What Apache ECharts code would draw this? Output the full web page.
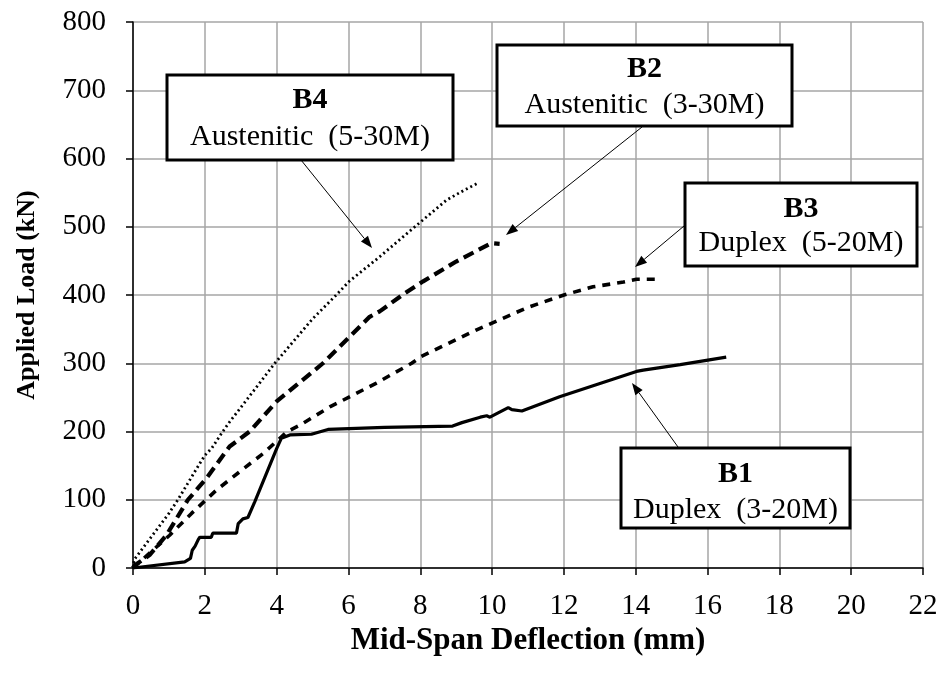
<!DOCTYPE html>
<html>
<head>
<meta charset="utf-8">
<script src="https://cdn.jsdelivr.net/npm/echarts@6/dist/echarts.min.js"></script>
<style>
html,body{margin:0;padding:0;background:#fff;}
#chart{width:943px;height:680px;}
</style>
</head>
<body>
<div id="chart"></div>
<script>
// ---- Data ----
var b1Defl = [0, 1.44, 1.6, 1.65, 1.73, 1.82, 1.86, 2.18, 2.22, 2.88, 2.93, 3.06, 3.2, 3.39, 4.0, 4.13, 4.37, 4.97, 5.43, 7.0, 8.9, 9.16, 9.67, 9.85, 9.94, 10.45, 10.55, 10.83, 11.88, 14.02, 14.21, 15.24, 16.52];
var b1Load = [0, 9, 14, 26, 32, 42, 45, 45, 51, 51, 65, 72, 74, 97, 175, 190, 195, 196, 203, 206, 208, 213, 221, 223, 221, 235, 232, 230, 251, 288, 290, 298, 309];

var b2Defl = [0, 0.05, 0.46, 0.93, 1.53, 2.04, 2.69, 3.25, 4.0, 5.29, 6.59, 6.87, 7.5, 8.08, 9.0, 9.98, 10.21];
var b2Load = [0, 4, 19, 48, 100, 131, 178, 200, 244, 300, 368, 376, 400, 420, 449, 476, 475];

var b3Defl = [0, 0.05, 1.02, 1.63, 2.32, 2.97, 3.63, 4.3, 4.64, 5.48, 6.78, 7.76, 8.03, 9.57, 11.0, 12.0, 12.81, 13.66, 14.02, 14.53];
var b3Load = [0, 2, 48, 80, 114, 141, 168, 200, 209, 236, 271, 300, 310, 349, 382, 400, 412, 419, 423, 423];

var b4Defl = [0, 0.03, 1.0, 1.25, 1.8, 2.0, 2.2, 2.5, 2.69, 3.16, 3.95, 5.0, 5.66, 6.02, 6.87, 7.85, 8.73, 9.2, 9.61];
var b4Load = [0, 12, 80, 100, 148, 165, 176, 200, 214, 246, 300, 365, 400, 420, 456, 500, 539, 553, 564];

var xTicks = {min: 0, max: 22, step: 2};
var yTicks = {min: 0, max: 800, step: 100};

var notes = [
  {id: 'B1', title: 'B1', sub: 'Duplex  (3-20M)'},
  {id: 'B2', title: 'B2', sub: 'Austenitic  (3-30M)'},
  {id: 'B3', title: 'B3', sub: 'Duplex  (5-20M)'},
  {id: 'B4', title: 'B4', sub: 'Austenitic  (5-30M)'}
];

function pairs(xs, ys) { return xs.map(function (x, i) { return [x, ys[i]]; }); }

var FONT = '"Liberation Serif", "Times New Roman", serif';

var chart = echarts.init(document.getElementById('chart'), null, {renderer: 'canvas'});

// annotation layout (pixel positions of boxes and arrow ends)
var layout = {
  B4: {box: [167, 75, 286, 85], t1: 100, t2: 137, arrow: [301, 160, 372, 248]},
  B2: {box: [497, 45, 295, 81], t1: 69, t2: 105, arrow: [642, 127, 506, 235]},
  B3: {box: [685, 183, 232, 83], t1: 209, t2: 243, arrow: [684, 226, 635, 267]},
  B1: {box: [621, 448, 229, 80], t1: 474, t2: 510, arrow: [678, 447, 632, 383]}
};

function arrowEls(a) {
  var x1 = a[0], y1 = a[1], x2 = a[2], y2 = a[3];
  var dx = x2 - x1, dy = y2 - y1, L = Math.sqrt(dx * dx + dy * dy);
  var ux = dx / L, uy = dy / L, hl = 12, hw = 4.5;
  var bx = x2 - ux * hl, by = y2 - uy * hl;
  return [
    {type: 'line', z: 100, shape: {x1: x1, y1: y1, x2: bx, y2: by}, style: {stroke: '#000', lineWidth: 1}},
    {type: 'polygon', z: 100, shape: {points: [[x2, y2], [bx - uy * hw, by + ux * hw], [bx + uy * hw, by - ux * hw]]}, style: {fill: '#000'}}
  ];
}

var graphics = [];
notes.forEach(function (n) {
  var l = layout[n.id];
  var b = l.box;
  graphics = graphics.concat(arrowEls(l.arrow));
  graphics.push({type: 'rect', z: 101, shape: {x: b[0], y: b[1], width: b[2], height: b[3]}, style: {fill: '#fff', stroke: '#000', lineWidth: 3}});
  graphics.push({type: 'text', z: 102, x: b[0] + b[2] / 2, y: l.t1, style: {text: n.title, font: 'bold 30px ' + FONT, fill: '#000', align: 'center', verticalAlign: 'middle'}});
  graphics.push({type: 'text', z: 102, x: b[0] + b[2] / 2, y: l.t2, style: {text: n.sub, font: '30px ' + FONT, fill: '#000', align: 'center', verticalAlign: 'middle'}});
});

var option = {
  animation: false,
  backgroundColor: '#fff',
  grid: {left: 133, right: 20, top: 22, bottom: 112, containLabel: false},
  xAxis: {
    type: 'value', min: xTicks.min, max: xTicks.max, interval: xTicks.step,
    name: 'Mid-Span Deflection (mm)', nameLocation: 'middle', nameGap: 55,
    nameTextStyle: {fontFamily: FONT, fontWeight: 'bold', fontSize: 31, color: '#000'},
    axisLine: {lineStyle: {color: '#000', width: 1.5}},
    axisTick: {show: true, inside: false, length: 7, lineStyle: {color: '#000', width: 1.5}},
    axisLabel: {fontFamily: FONT, fontSize: 29, color: '#000', margin: 24},
    splitLine: {show: true, lineStyle: {color: '#a6a6a6', width: 1.5}}
  },
  yAxis: {
    type: 'value', min: yTicks.min, max: yTicks.max, interval: yTicks.step,
    name: 'Applied Load (kN)', nameLocation: 'middle', nameGap: 93, nameRotate: 90,
    nameTextStyle: {fontFamily: FONT, fontWeight: 'bold', fontSize: 26, color: '#000'},
    axisLine: {show: true, lineStyle: {color: '#000', width: 1.5}},
    axisTick: {show: true, inside: false, length: 7, lineStyle: {color: '#000', width: 1.5}},
    axisLabel: {fontFamily: FONT, fontSize: 29, color: '#000', margin: 27},
    splitLine: {show: true, lineStyle: {color: '#a6a6a6', width: 1.5}}
  },
  series: [
    {name: 'B1', type: 'line', data: pairs(b1Defl, b1Load), showSymbol: false, z: 5,
     lineStyle: {color: '#000', width: 3.2, type: 'solid'}},
    {name: 'B2', type: 'line', data: pairs(b2Defl, b2Load), showSymbol: false, z: 5,
     lineStyle: {color: '#000', width: 4.2, type: [11, 6]}},
    {name: 'B3', type: 'line', data: pairs(b3Defl, b3Load), showSymbol: false, z: 5,
     lineStyle: {color: '#000', width: 3.6, type: [8, 7]}},
    {name: 'B4', type: 'line', data: pairs(b4Defl, b4Load), showSymbol: false, z: 5,
     lineStyle: {color: '#000', width: 2.8, type: [2, 3]}}
  ],
  graphic: graphics
};
chart.setOption(option);
</script>
</body>
</html>
